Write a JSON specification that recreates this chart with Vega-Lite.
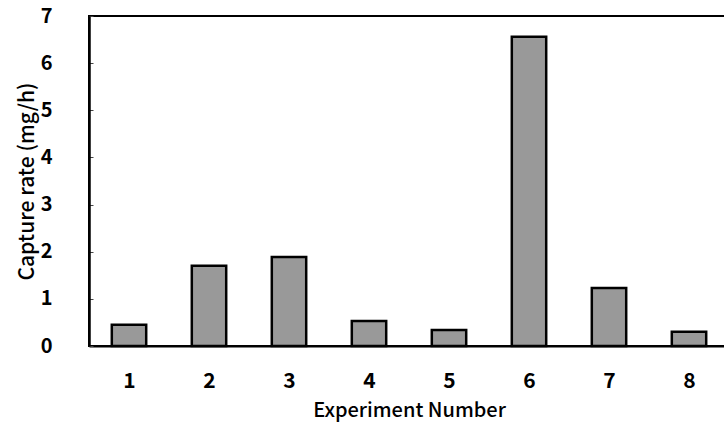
{
  "$schema": "https://vega.github.io/schema/vega-lite/v6.json",
  "autosize": "none",
  "width": 640,
  "height": 330,
  "padding": {"left": 89, "top": 16, "right": 0, "bottom": 85},
  "background": "white",
  "config": {
    "view": {"stroke": "black", "strokeWidth": 2},
    "font": "Noto Sans CJK JP"
  },
  "data": {
    "values": [
      {"experiment": "1", "rate": 0.45},
      {"experiment": "2", "rate": 1.70},
      {"experiment": "3", "rate": 1.89},
      {"experiment": "4", "rate": 0.53},
      {"experiment": "5", "rate": 0.34},
      {"experiment": "6", "rate": 6.56},
      {"experiment": "7", "rate": 1.23},
      {"experiment": "8", "rate": 0.30}
    ]
  },
  "mark": {"type": "bar", "fill": "#999999", "stroke": "black", "strokeWidth": 2.5},
  "encoding": {
    "x": {
      "field": "experiment",
      "type": "ordinal",
      "scale": {"paddingInner": 0.57, "paddingOuter": 0.285},
      "axis": {
        "title": "Experiment Number",
        "titleFontSize": 20,
        "titleFontWeight": 500,
        "titleColor": "black",
        "titlePadding": 9,
        "labelAngle": 0,
        "labelFontSize": 21,
        "labelFontWeight": "bold",
        "labelColor": "black",
        "labelPadding": 29,
        "domainColor": "black",
        "domainWidth": 2,
        "tickBand": "extent",
        "tickSize": -5,
        "tickColor": "black",
        "tickWidth": 1
      }
    },
    "y": {
      "field": "rate",
      "type": "quantitative",
      "scale": {"domain": [0, 7], "nice": false},
      "axis": {
        "title": "Capture rate (mg/h)",
        "titleFontSize": 21,
        "titleFontWeight": 500,
        "titleColor": "black",
        "titleX": -62,
        "titleBaseline": "middle",
        "values": [0, 0.5, 1, 1.5, 2, 2.5, 3, 3.5, 4, 4.5, 5, 5.5, 6, 6.5, 7],
        "format": "d",
        "labelExpr": "datum.value % 1 === 0 ? datum.label : ''",
        "labelFontSize": 20,
        "labelFontWeight": "bold",
        "labelColor": "black",
        "labelPadding": 41,
        "grid": false,
        "domainColor": "black",
        "domainWidth": 2.5,
        "tickSize": -4,
        "tickColor": "#444",
        "tickWidth": 1
      }
    }
  }
}
